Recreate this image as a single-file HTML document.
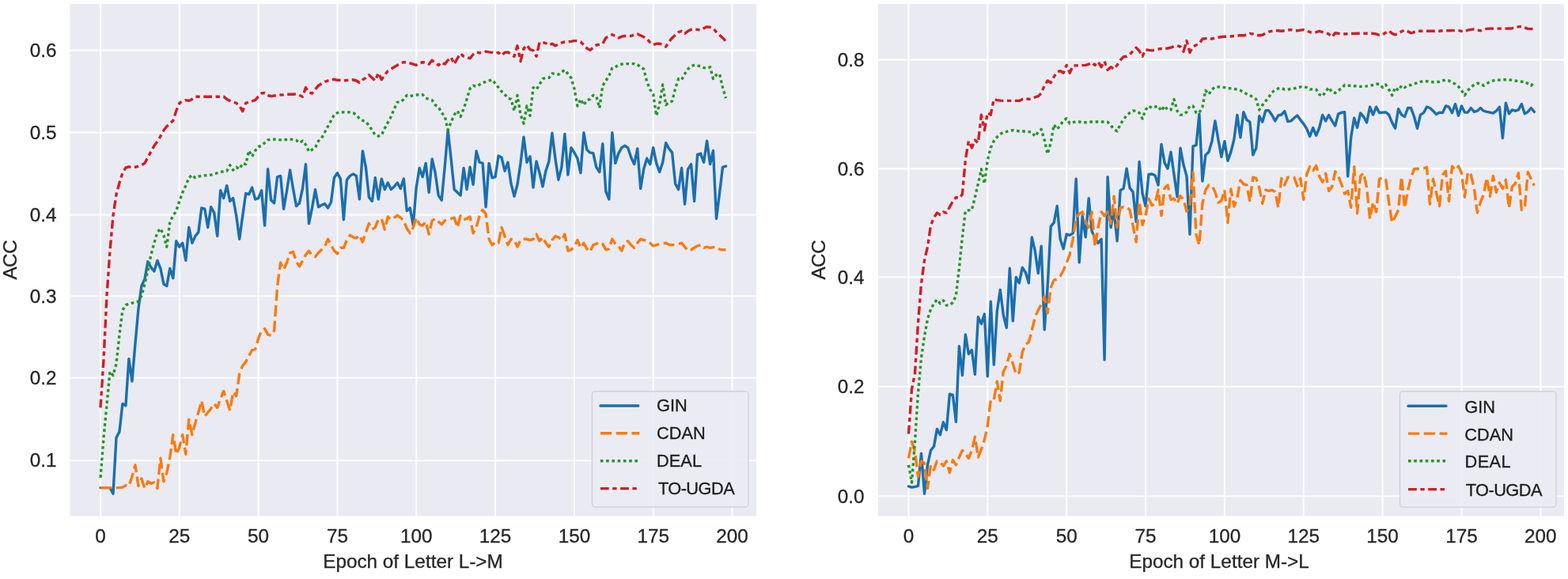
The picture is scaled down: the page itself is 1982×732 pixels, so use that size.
<!DOCTYPE html>
<html lang="en"><head><meta charset="utf-8"><title>ACC vs Epoch</title>
<style>
html,body{margin:0;padding:0;background:#fff;}
body{width:1982px;height:732px;overflow:hidden;}
svg{display:block;}
svg text{font-family:"Liberation Sans", Arial, sans-serif;fill:#262626;stroke:#262626;stroke-width:0.3px;}
</style></head><body>
<svg width="1982" height="732" viewBox="0 0 1982 732">
<rect width="1982" height="732" fill="#fff"/>
<g id="left">
<rect x="88.4" y="5.1" width="867.4" height="647.1999999999999" fill="#eaeaf2"/>
<path d="M127.00 5.1V652.3M226.81 5.1V652.3M326.62 5.1V652.3M426.44 5.1V652.3M526.25 5.1V652.3M626.06 5.1V652.3M725.88 5.1V652.3M825.69 5.1V652.3M925.50 5.1V652.3M88.4 582.20H955.8M88.4 477.80H955.8M88.4 374.30H955.8M88.4 271.60H955.8M88.4 167.60H955.8M88.4 63.60H955.8" stroke="#fdfdfe" stroke-width="2.1" fill="none"/>
<g fill="none" stroke-width="3.4" stroke-linejoin="round">
<polyline points="127.0,616.6 131.0,616.6 135.0,616.6 139.0,616.6 143.0,624.2 147.0,553.4 151.0,545.6 154.9,510.4 158.9,512.9 162.9,453.7 166.9,482.0 170.9,435.2 174.9,391.0 178.9,361.5 182.9,352.9 186.9,330.7 190.9,338.1 194.9,343.0 198.9,329.5 202.9,339.3 206.9,359.0 210.8,361.5 214.8,339.3 218.8,351.6 222.8,304.7 226.8,312.1 230.8,307.2 234.8,329.3 238.8,287.5 242.8,307.2 246.8,298.6 250.8,293.7 254.8,262.9 258.8,264.2 262.7,287.5 266.7,261.7 270.7,269.1 274.7,298.6 278.7,240.8 282.7,250.6 286.7,234.7 290.7,254.3 294.7,250.6 298.7,272.8 302.7,302.3 306.7,272.8 310.7,244.5 314.6,245.7 318.6,237.1 322.6,251.9 326.6,250.6 330.6,240.8 334.6,285.1 338.6,213.8 342.6,253.1 346.6,256.8 350.6,223.6 354.6,222.4 358.6,264.2 362.6,240.8 366.6,215.0 370.5,238.4 374.5,260.5 378.5,256.8 382.5,238.4 386.5,207.6 390.5,282.6 394.5,262.9 398.5,239.6 402.5,261.7 406.5,259.3 410.5,257.5 414.5,262.9 418.5,255.6 422.4,224.8 426.4,218.7 430.4,226.1 434.4,277.7 438.4,227.3 442.4,222.4 446.4,219.9 450.4,222.4 454.4,251.9 458.4,190.9 462.4,211.3 466.4,249.4 470.4,254.3 474.3,224.8 478.3,251.9 482.3,226.1 486.3,239.6 490.3,231.0 494.3,239.6 498.3,235.9 502.3,231.0 506.3,238.4 510.3,226.1 514.3,266.6 518.3,262.9 522.3,285.1 526.2,237.1 530.2,212.5 534.2,223.6 538.2,206.4 542.2,243.3 546.2,201.0 550.2,218.7 554.2,247.0 558.2,253.1 562.2,211.3 566.2,164.6 570.2,201.5 574.2,239.6 578.2,243.3 582.1,247.0 586.1,212.5 590.1,239.6 594.1,211.3 598.1,233.4 602.1,190.9 606.1,205.2 610.1,206.4 614.1,261.7 618.1,206.4 622.1,224.8 626.1,223.6 630.1,197.0 634.0,199.0 638.0,216.2 642.0,205.2 646.0,232.2 650.0,248.2 654.0,233.4 658.0,206.4 662.0,173.2 666.0,205.2 670.0,197.8 674.0,237.1 678.0,203.9 682.0,218.7 686.0,235.9 689.9,216.2 693.9,203.9 697.9,168.3 701.9,200.2 705.9,227.3 709.9,211.3 713.9,169.5 717.9,221.1 721.9,186.7 725.9,192.9 729.9,200.2 733.9,218.7 737.9,167.8 741.8,189.2 745.8,192.9 749.8,193.6 753.8,211.3 757.8,217.5 761.8,181.8 765.8,242.0 769.8,251.9 773.8,167.8 777.8,206.4 781.8,194.1 785.8,186.7 789.8,184.3 793.7,186.7 797.7,199.0 801.7,207.6 805.7,187.9 809.7,238.4 813.7,213.8 817.7,200.2 821.7,207.6 825.7,186.7 829.7,206.4 833.7,217.5 837.7,205.2 841.7,180.6 845.6,187.9 849.6,192.9 853.6,232.2 857.6,239.6 861.6,212.5 865.6,258.0 869.6,213.8 873.6,207.6 877.6,254.3 881.6,195.3 885.6,194.1 889.6,205.2 893.6,178.1 897.6,207.6 901.5,190.4 905.5,276.5 909.5,244.5 913.5,211.3 917.5,210.1" stroke="#1a6fae" stroke-linecap="round"/>
<polyline points="127.0,616.6 131.0,616.6 135.0,616.6 139.0,616.6 143.0,616.6 147.0,616.6 151.0,616.6 154.9,616.1 158.9,613.7 162.9,614.4 166.9,602.6 170.9,587.9 174.9,614.4 178.9,605.1 182.9,617.4 186.9,608.8 190.9,611.2 194.9,610.0 198.9,617.4 202.9,579.3 206.9,608.8 210.8,597.7 214.8,578.0 218.8,549.7 222.8,574.3 226.8,565.7 230.8,549.7 234.8,574.3 238.8,530.1 242.8,549.7 246.8,535.0 250.8,521.5 254.8,506.7 258.8,526.4 262.7,521.5 266.7,516.6 270.7,510.4 274.7,515.3 278.7,504.3 282.7,494.4 286.7,506.7 290.7,519.0 294.7,495.7 298.7,500.6 302.7,472.1 306.7,462.3 310.7,457.4 314.6,450.0 318.6,442.6 322.6,441.4 326.6,427.9 330.6,418.0 334.6,415.6 338.6,422.9 342.6,424.2 346.6,418.0 350.6,361.5 354.6,332.0 358.6,340.6 362.6,332.0 366.6,319.7 370.5,318.4 374.5,330.7 378.5,336.9 382.5,329.5 386.5,322.1 390.5,317.2 394.5,323.4 398.5,324.6 402.5,319.5 406.5,315.8 410.5,312.1 414.5,302.3 418.5,309.7 422.4,317.0 426.4,320.7 430.4,313.3 434.4,313.3 438.4,303.5 442.4,297.4 446.4,299.8 450.4,301.1 454.4,297.4 458.4,306.0 462.4,293.7 466.4,282.6 470.4,290.0 474.3,287.5 478.3,277.7 482.3,276.5 486.3,290.0 490.3,274.0 494.3,277.7 498.3,275.2 502.3,272.3 506.3,275.2 510.3,278.9 514.3,288.8 518.3,294.9 522.3,287.5 526.2,275.2 530.2,283.8 534.2,285.1 538.2,280.2 542.2,296.1 546.2,278.9 550.2,276.5 554.2,280.2 558.2,283.8 562.2,278.9 566.2,277.7 570.2,276.5 574.2,275.2 578.2,287.5 582.1,272.8 586.1,277.7 590.1,276.5 594.1,274.0 598.1,294.9 602.1,287.5 606.1,272.8 610.1,265.4 614.1,270.3 618.1,302.3 622.1,309.7 626.1,306.0 630.1,307.2 634.0,287.5 638.0,298.6 642.0,309.7 646.0,302.3 650.0,303.5 654.0,312.1 658.0,303.5 662.0,302.3 666.0,302.3 670.0,303.5 674.0,302.3 678.0,296.1 682.0,304.7 686.0,299.8 689.9,307.2 693.9,312.1 697.9,303.5 701.9,298.6 705.9,299.8 709.9,303.5 713.9,296.1 717.9,317.0 721.9,315.8 725.9,312.1 729.9,303.5 733.9,313.3 737.9,307.2 741.8,314.6 745.8,318.3 749.8,309.7 753.8,308.4 757.8,306.0 761.8,308.4 765.8,315.8 769.8,314.6 773.8,302.3 777.8,308.4 781.8,310.9 785.8,317.0 789.8,307.2 793.7,304.7 797.7,309.7 801.7,313.3 805.7,307.2 809.7,302.3 813.7,303.5 817.7,304.2 821.7,307.2 825.7,310.9 829.7,309.7 833.7,308.4 837.7,307.7 841.7,307.2 845.6,309.2 849.6,309.7 853.6,309.2 857.6,308.4 861.6,307.2 865.6,312.1 869.6,317.0 873.6,315.8 877.6,313.3 881.6,310.9 885.6,309.7 889.6,313.3 893.6,312.1 897.6,313.3 901.5,312.6 905.5,312.1 909.5,315.1 913.5,315.8 917.5,315.8" stroke="#f97b0c" stroke-dasharray="14.3 5.5"/>
<polyline points="127.0,603.8 131.0,553.4 135.0,511.6 139.0,469.7 143.0,474.6 147.0,459.8 151.0,422.9 154.9,392.2 158.9,385.6 162.9,384.1 166.9,383.1 170.9,382.4 174.9,381.1 178.9,373.8 182.9,359.0 186.9,341.8 190.9,322.0 194.9,307.2 198.9,293.7 202.9,288.8 206.9,297.4 210.8,312.1 214.8,280.2 218.8,272.8 222.8,266.6 226.8,254.3 230.8,243.3 234.8,234.7 238.8,224.8 242.8,221.1 246.8,224.8 250.8,223.1 254.8,222.4 258.8,221.9 262.7,221.6 266.7,221.1 270.7,219.9 274.7,218.7 278.7,217.5 282.7,216.7 286.7,216.2 290.7,208.8 294.7,215.0 298.7,211.3 302.7,213.8 306.7,206.4 310.7,207.6 314.6,190.4 318.6,197.8 322.6,190.4 326.6,185.5 330.6,184.3 334.6,180.6 338.6,176.9 342.6,176.1 346.6,176.1 350.6,176.4 354.6,176.9 358.6,176.9 362.6,176.4 366.6,176.1 370.5,176.4 374.5,177.4 378.5,180.6 382.5,178.1 386.5,183.0 390.5,191.6 394.5,189.2 398.5,186.7 402.5,178.3 406.5,174.6 410.5,167.2 414.5,159.8 418.5,152.4 422.4,145.1 426.4,142.6 430.4,142.1 434.4,141.9 438.4,141.9 442.4,141.9 446.4,142.6 450.4,145.1 454.4,150.0 458.4,152.4 462.4,153.7 466.4,158.6 470.4,164.7 474.3,170.9 478.3,172.1 482.3,170.9 486.3,162.3 490.3,154.9 494.3,147.5 498.3,137.7 502.3,129.1 506.3,129.1 510.3,125.4 514.3,120.5 518.3,121.7 522.3,120.5 526.2,120.0 530.2,119.7 534.2,119.7 538.2,124.2 542.2,125.4 546.2,126.6 550.2,132.8 554.2,135.2 558.2,142.6 562.2,147.0 566.2,164.2 570.2,154.4 574.2,145.1 578.2,140.2 582.1,147.5 586.1,137.7 590.1,125.4 594.1,111.9 598.1,108.2 602.1,109.4 606.1,107.0 610.1,104.5 614.1,103.3 618.1,102.0 622.1,100.8 626.1,105.7 630.1,110.6 634.0,115.6 638.0,119.3 642.0,124.2 646.0,125.4 650.0,140.2 654.0,120.5 658.0,145.1 662.0,156.1 666.0,134.0 670.0,146.3 674.0,110.6 678.0,113.1 682.0,107.0 686.0,99.6 689.9,98.4 693.9,98.4 697.9,92.9 701.9,93.4 705.9,94.2 709.9,91.0 713.9,88.5 717.9,93.4 721.9,98.4 725.9,111.9 729.9,134.0 733.9,125.4 737.9,132.8 741.8,126.6 745.8,125.4 749.8,120.5 753.8,121.7 757.8,136.5 761.8,108.2 765.8,102.0 769.8,95.9 773.8,86.1 777.8,84.8 781.8,82.4 785.8,81.1 789.8,80.6 793.7,80.6 797.7,80.6 801.7,80.6 805.7,81.6 809.7,84.8 813.7,87.3 817.7,103.3 821.7,113.1 825.7,119.3 829.7,146.3 833.7,131.5 837.7,107.0 841.7,132.8 845.6,129.1 849.6,127.9 853.6,111.9 857.6,99.6 861.6,100.8 865.6,93.4 869.6,87.3 873.6,83.6 877.6,82.4 881.6,83.1 885.6,83.6 889.6,85.6 893.6,86.1 897.6,84.8 901.5,99.6 905.5,94.7 909.5,93.4 913.5,110.6 917.5,124.2" stroke="#239526" stroke-dasharray="3.6 3.65"/>
<polyline points="127.0,515.3 131.0,454.9 135.0,373.8 139.0,317.0 143.0,272.8 147.0,245.7 151.0,231.0 154.9,218.7 158.9,212.0 162.9,210.8 166.9,211.8 170.9,211.3 174.9,210.1 178.9,208.8 182.9,206.4 186.9,199.0 190.9,191.6 194.9,184.3 198.9,178.8 202.9,172.1 206.9,164.7 210.8,159.8 214.8,156.1 218.8,152.4 222.8,140.2 226.8,130.3 230.8,127.9 234.8,126.6 238.8,127.4 242.8,125.4 246.8,122.2 250.8,122.2 254.8,122.2 258.8,122.2 262.7,122.2 266.7,122.2 270.7,122.2 274.7,122.2 278.7,122.2 282.7,122.2 286.7,125.4 290.7,127.4 294.7,129.1 298.7,130.3 302.7,134.0 306.7,140.6 310.7,130.3 314.6,129.1 318.6,127.9 322.6,126.6 326.6,121.7 330.6,118.0 334.6,117.5 338.6,120.5 342.6,121.7 346.6,121.0 350.6,120.5 354.6,120.0 358.6,119.7 362.6,119.3 366.6,119.3 370.5,119.3 374.5,118.8 378.5,120.5 382.5,122.2 386.5,110.6 390.5,116.8 394.5,118.0 398.5,113.1 402.5,108.2 406.5,105.7 410.5,103.3 414.5,102.0 418.5,100.8 422.4,100.3 426.4,101.3 430.4,101.5 434.4,102.0 438.4,101.5 442.4,101.3 446.4,100.8 450.4,102.0 454.4,104.5 458.4,100.8 462.4,98.4 466.4,94.7 470.4,98.4 474.3,102.0 478.3,92.2 482.3,100.8 486.3,94.7 490.3,89.7 494.3,87.3 498.3,84.8 502.3,82.4 506.3,79.9 510.3,78.7 514.3,78.7 518.3,79.9 522.3,81.1 526.2,82.4 530.2,79.9 534.2,78.7 538.2,79.2 542.2,81.1 546.2,76.2 550.2,79.9 554.2,82.4 558.2,78.7 562.2,81.1 566.2,76.2 570.2,72.5 574.2,81.1 578.2,73.8 582.1,67.6 586.1,71.3 590.1,72.5 594.1,73.8 598.1,68.8 602.1,65.9 606.1,66.9 610.1,66.4 614.1,65.2 618.1,65.9 622.1,66.4 626.1,67.6 630.1,66.4 634.0,70.1 638.0,66.4 642.0,65.9 646.0,68.8 650.0,71.3 654.0,57.8 658.0,77.5 662.0,61.5 666.0,57.0 670.0,62.7 674.0,63.9 678.0,71.3 682.0,53.6 686.0,53.6 689.9,54.6 693.9,57.0 697.9,55.3 701.9,57.8 705.9,56.1 709.9,54.1 713.9,52.9 717.9,52.9 721.9,52.4 725.9,51.6 729.9,51.6 733.9,52.9 737.9,56.6 741.8,61.0 745.8,63.4 749.8,60.2 753.8,57.0 757.8,56.1 761.8,55.3 765.8,47.9 769.8,45.5 773.8,43.8 777.8,45.5 781.8,47.9 785.8,46.2 789.8,45.5 793.7,45.5 797.7,45.5 801.7,43.8 805.7,43.0 809.7,44.8 813.7,46.7 817.7,49.2 821.7,53.6 825.7,56.6 829.7,55.3 833.7,55.3 837.7,56.1 841.7,59.0 845.6,52.9 849.6,47.9 853.6,44.3 857.6,40.6 861.6,39.3 865.6,42.3 869.6,39.3 873.6,37.4 877.6,36.9 881.6,37.4 885.6,38.1 889.6,35.7 893.6,33.9 897.6,34.4 901.5,35.7 905.5,40.6 909.5,44.3 913.5,47.9 917.5,52.1" stroke="#cf1f24" stroke-dasharray="10.8 4.5 5.4 4.5"/>
</g>
<rect x="748.4" y="494.8" width="197.5" height="146.2" rx="4" ry="4" fill="#eaeaf2" fill-opacity="0.87" stroke="#cccccc" stroke-opacity="0.85" stroke-width="1.4"/>
<path d="M758.9 513.0h47.9" stroke="#1a6fae" stroke-width="3.4" fill="none" stroke-linecap="round"/>
<text x="830.1" y="520.1" font-size="21.8" style="fill:#1c1c1c;stroke:#1c1c1c">GIN</text>
<path d="M758.9 547.8h49.5" stroke="#f97b0c" stroke-width="3.4" fill="none" stroke-dasharray="14.3 5.5"/>
<text x="830.1" y="555.0" font-size="21.8" style="fill:#1c1c1c;stroke:#1c1c1c">CDAN</text>
<path d="M758.9 582.8h49.5" stroke="#239526" stroke-width="3.4" fill="none" stroke-dasharray="3.6 3.65"/>
<text x="830.1" y="589.8" font-size="21.8" style="fill:#1c1c1c;stroke:#1c1c1c">DEAL</text>
<path d="M758.9 617.6h49.5" stroke="#cf1f24" stroke-width="3.4" fill="none" stroke-dasharray="10.8 4.5 5.4 4.5"/>
<text x="831.9" y="624.8" font-size="21.8" style="fill:#1c1c1c;stroke:#1c1c1c" letter-spacing="-0.55">TO-UGDA</text>
<text x="127.0" y="686.3" font-size="24.3" text-anchor="middle">0</text>
<text x="226.8" y="686.3" font-size="24.3" text-anchor="middle">25</text>
<text x="326.6" y="686.3" font-size="24.3" text-anchor="middle">50</text>
<text x="426.4" y="686.3" font-size="24.3" text-anchor="middle">75</text>
<text x="526.2" y="686.3" font-size="24.3" text-anchor="middle">100</text>
<text x="626.1" y="686.3" font-size="24.3" text-anchor="middle">125</text>
<text x="725.9" y="686.3" font-size="24.3" text-anchor="middle">150</text>
<text x="825.7" y="686.3" font-size="24.3" text-anchor="middle">175</text>
<text x="925.5" y="686.3" font-size="24.3" text-anchor="middle">200</text>
<text x="71.5" y="590.4" font-size="24.3" text-anchor="end">0.1</text>
<text x="71.5" y="486.0" font-size="24.3" text-anchor="end">0.2</text>
<text x="71.5" y="382.5" font-size="24.3" text-anchor="end">0.3</text>
<text x="71.5" y="279.8" font-size="24.3" text-anchor="end">0.4</text>
<text x="71.5" y="175.8" font-size="24.3" text-anchor="end">0.5</text>
<text x="71.5" y="71.8" font-size="24.3" text-anchor="end">0.6</text>
<text x="522" y="718.2" font-size="24.3" text-anchor="middle">Epoch of Letter L-&gt;M</text>
<text transform="translate(21.3 328.7) rotate(-90)" font-size="24.3" text-anchor="middle" letter-spacing="-0.5">ACC</text>
</g>
<g id="right">
<rect x="1109.9" y="5.1" width="867.0999999999999" height="647.1999999999999" fill="#eaeaf2"/>
<path d="M1148.50 5.1V652.3M1248.35 5.1V652.3M1348.20 5.1V652.3M1448.05 5.1V652.3M1547.90 5.1V652.3M1647.75 5.1V652.3M1747.60 5.1V652.3M1847.45 5.1V652.3M1947.30 5.1V652.3M1109.9 627.30H1977.0M1109.9 488.80H1977.0M1109.9 350.40H1977.0M1109.9 213.40H1977.0M1109.9 75.60H1977.0" stroke="#fdfdfe" stroke-width="2.1" fill="none"/>
<g fill="none" stroke-width="3.4" stroke-linejoin="round">
<polyline points="1148.5,614.9 1152.5,616.1 1156.5,615.4 1160.5,614.4 1164.5,573.1 1168.5,624.2 1172.5,587.9 1176.5,569.4 1180.5,564.5 1184.4,542.4 1188.4,549.7 1192.4,533.8 1196.4,543.6 1200.4,498.1 1204.4,499.3 1208.4,533.3 1212.4,437.7 1216.4,474.6 1220.4,422.9 1224.4,447.5 1228.4,442.6 1232.4,473.3 1236.4,400.8 1240.4,409.4 1244.4,397.1 1248.3,475.8 1252.3,381.1 1256.3,461.1 1260.3,393.4 1264.3,366.4 1268.3,398.4 1272.3,414.3 1276.3,339.3 1280.3,405.7 1284.3,350.4 1288.3,357.8 1292.3,338.1 1296.3,344.3 1300.3,357.8 1304.3,300.0 1308.3,317.2 1312.3,345.5 1316.2,311.1 1320.2,416.8 1324.2,361.5 1328.2,286.3 1332.2,281.4 1336.2,260.5 1340.2,302.3 1344.2,314.6 1348.2,296.1 1352.2,297.4 1356.2,294.9 1360.2,226.1 1364.2,331.8 1368.2,272.8 1372.2,299.8 1376.2,250.6 1380.2,292.4 1384.1,301.1 1388.1,307.2 1392.1,302.3 1396.1,454.9 1400.1,223.6 1404.1,287.5 1408.1,265.4 1412.1,304.7 1416.1,240.8 1420.1,238.4 1424.1,213.1 1428.1,237.7 1432.1,242.6 1436.1,280.2 1440.1,204.5 1444.1,244.6 1448.0,260.6 1452.0,220.5 1456.0,220.0 1460.0,221.7 1464.0,234.0 1468.0,182.4 1472.0,205.7 1476.0,213.1 1480.0,192.2 1484.0,220.5 1488.0,248.8 1492.0,187.3 1496.0,208.2 1500.0,222.9 1504.0,296.2 1508.0,184.8 1512.0,183.6 1515.9,144.3 1519.9,229.1 1523.9,195.9 1527.9,192.2 1531.9,178.7 1535.9,152.9 1539.9,176.2 1543.9,198.4 1547.9,178.7 1551.9,203.3 1555.9,192.2 1559.9,176.2 1563.9,145.5 1567.9,173.8 1571.9,141.8 1575.9,151.6 1579.9,154.1 1583.8,195.9 1587.8,187.3 1591.8,146.7 1595.8,154.1 1599.8,139.8 1603.8,139.8 1607.8,145.5 1611.8,152.9 1615.8,146.0 1619.8,145.0 1623.8,140.6 1627.8,153.6 1631.8,152.9 1635.8,149.2 1639.8,146.0 1643.8,151.6 1647.8,156.6 1651.7,162.7 1655.7,172.5 1659.7,161.5 1663.7,171.3 1667.7,161.5 1671.7,145.5 1675.7,152.9 1679.7,145.5 1683.7,152.9 1687.7,159.0 1691.7,143.8 1695.7,142.3 1699.7,141.8 1703.7,222.9 1707.7,173.8 1711.7,149.2 1715.6,161.5 1719.6,143.0 1723.6,147.5 1727.6,154.9 1731.6,135.2 1735.6,145.1 1739.6,135.2 1743.6,142.6 1747.6,142.1 1751.6,141.9 1755.6,145.1 1759.6,154.9 1763.6,162.3 1767.6,137.7 1771.6,145.1 1775.6,147.5 1779.6,136.5 1783.5,136.5 1787.5,147.5 1791.5,162.3 1795.5,145.1 1799.5,142.6 1803.5,135.2 1807.5,136.5 1811.5,140.2 1815.5,144.6 1819.5,142.1 1823.5,142.6 1827.5,134.0 1831.5,135.2 1835.5,142.6 1839.5,131.5 1843.5,146.3 1847.5,134.0 1851.4,142.1 1855.4,142.1 1859.4,136.5 1863.4,141.4 1867.4,140.2 1871.4,136.5 1875.4,140.2 1879.4,141.4 1883.4,142.1 1887.4,143.1 1891.4,140.2 1895.4,135.2 1899.4,174.6 1903.4,130.3 1907.4,143.8 1911.4,138.9 1915.3,140.2 1919.3,138.9 1923.3,131.5 1927.3,143.8 1931.3,141.4 1935.3,136.5 1939.3,141.4" stroke="#1a6fae" stroke-linecap="round"/>
<polyline points="1148.5,579.3 1152.5,558.4 1156.5,570.6 1160.5,602.6 1164.5,582.9 1168.5,585.4 1172.5,617.4 1176.5,587.9 1180.5,594.0 1184.4,582.9 1188.4,584.2 1192.4,589.1 1196.4,582.9 1200.4,597.7 1204.4,581.7 1208.4,587.9 1212.4,578.0 1216.4,569.4 1220.4,573.1 1224.4,579.3 1228.4,569.4 1232.4,552.2 1236.4,578.0 1240.4,568.2 1244.4,555.9 1248.3,538.7 1252.3,505.5 1256.3,505.5 1260.3,482.1 1264.3,506.7 1268.3,469.7 1272.3,462.3 1276.3,447.5 1280.3,459.8 1284.3,473.3 1288.3,470.9 1292.3,445.1 1296.3,435.2 1300.3,432.8 1304.3,418.0 1308.3,400.8 1312.3,392.2 1316.2,384.8 1320.2,375.0 1324.2,395.9 1328.2,363.9 1332.2,354.1 1336.2,352.9 1340.2,349.2 1344.2,341.8 1348.2,332.0 1352.2,322.0 1356.2,302.3 1360.2,275.2 1364.2,270.3 1368.2,267.9 1372.2,280.2 1376.2,287.5 1380.2,267.9 1384.1,312.1 1388.1,287.5 1392.1,267.9 1396.1,272.8 1400.1,267.9 1404.1,282.6 1408.1,248.2 1412.1,287.5 1416.1,262.9 1420.1,261.7 1424.1,261.7 1428.1,265.4 1432.1,285.1 1436.1,306.0 1440.1,254.9 1444.1,284.4 1448.0,273.3 1452.0,251.2 1456.0,259.8 1460.0,257.4 1464.0,240.2 1468.0,272.6 1472.0,237.7 1476.0,234.0 1480.0,252.4 1484.0,251.2 1488.0,257.4 1492.0,247.5 1496.0,252.4 1500.0,267.2 1504.0,259.8 1508.0,218.0 1512.0,296.7 1515.9,309.7 1519.9,257.4 1523.9,240.2 1527.9,234.0 1531.9,234.7 1535.9,242.6 1539.9,256.1 1543.9,253.7 1547.9,240.2 1551.9,281.5 1555.9,238.9 1559.9,261.1 1563.9,250.0 1567.9,227.9 1571.9,232.8 1575.9,234.0 1579.9,254.9 1583.8,224.2 1587.8,225.4 1591.8,237.7 1595.8,257.4 1599.8,240.2 1603.8,241.4 1607.8,240.2 1611.8,242.6 1615.8,262.3 1619.8,225.4 1623.8,234.0 1627.8,224.2 1631.8,223.7 1635.8,224.2 1639.8,235.2 1643.8,225.4 1647.8,252.4 1651.7,220.5 1655.7,210.6 1659.7,215.6 1663.7,209.4 1667.7,222.9 1671.7,230.3 1675.7,219.3 1679.7,241.4 1683.7,236.5 1687.7,216.8 1691.7,222.9 1695.7,232.8 1699.7,245.1 1703.7,241.4 1707.7,262.3 1711.7,210.6 1715.6,269.7 1719.6,222.9 1723.6,218.7 1727.6,237.1 1731.6,276.5 1735.6,255.6 1739.6,267.9 1743.6,226.1 1747.6,224.8 1751.6,226.1 1755.6,255.6 1759.6,281.4 1763.6,274.0 1767.6,265.4 1771.6,223.6 1775.6,262.9 1779.6,240.8 1783.5,224.8 1787.5,213.8 1791.5,213.3 1795.5,213.8 1799.5,213.0 1803.5,211.3 1807.5,258.0 1811.5,226.1 1815.5,243.3 1819.5,260.5 1823.5,221.1 1827.5,216.2 1831.5,254.3 1835.5,210.1 1839.5,215.0 1843.5,210.1 1847.5,218.7 1851.4,249.4 1855.4,217.5 1859.4,221.1 1863.4,238.4 1867.4,269.1 1871.4,255.6 1875.4,245.7 1879.4,224.8 1883.4,248.2 1887.4,222.4 1891.4,243.3 1895.4,231.0 1899.4,238.4 1903.4,227.3 1907.4,262.9 1911.4,235.9 1915.3,232.2 1919.3,218.7 1923.3,265.4 1927.3,262.9 1931.3,217.5 1935.3,226.1 1939.3,234.7" stroke="#f97b0c" stroke-dasharray="14.3 5.5"/>
<polyline points="1148.5,587.9 1152.5,610.0 1156.5,558.4 1160.5,496.7 1164.5,452.4 1168.5,425.4 1172.5,403.3 1176.5,391.0 1180.5,383.6 1184.4,378.7 1188.4,383.6 1192.4,379.9 1196.4,386.1 1200.4,385.6 1204.4,382.4 1208.4,373.8 1212.4,339.3 1216.4,299.8 1220.4,266.6 1224.4,265.9 1228.4,265.4 1232.4,249.4 1236.4,232.2 1240.4,213.8 1244.4,232.2 1248.3,202.7 1252.3,186.7 1256.3,178.1 1260.3,173.2 1264.3,169.5 1268.3,167.0 1272.3,166.3 1276.3,165.3 1280.3,164.6 1284.3,165.1 1288.3,165.8 1292.3,165.8 1296.3,166.3 1300.3,166.6 1304.3,167.0 1308.3,172.5 1312.3,167.0 1316.2,163.4 1320.2,176.9 1324.2,194.6 1328.2,180.6 1332.2,157.7 1336.2,163.4 1340.2,158.4 1344.2,152.3 1348.2,149.8 1352.2,156.0 1356.2,154.8 1360.2,153.5 1364.2,154.0 1368.2,154.8 1372.2,154.8 1376.2,154.3 1380.2,154.0 1384.1,154.0 1388.1,154.0 1392.1,154.0 1396.1,154.0 1400.1,154.3 1404.1,158.4 1408.1,163.4 1412.1,165.8 1416.1,157.2 1420.1,151.1 1424.1,146.1 1428.1,142.5 1432.1,140.0 1436.1,140.2 1440.1,142.6 1444.1,150.0 1448.0,138.9 1452.0,134.0 1456.0,136.5 1460.0,135.2 1464.0,134.0 1468.0,140.2 1472.0,134.0 1476.0,138.9 1480.0,138.9 1484.0,125.4 1488.0,140.2 1492.0,145.1 1496.0,145.1 1500.0,141.4 1504.0,134.0 1508.0,134.0 1512.0,142.6 1515.9,142.6 1519.9,135.2 1523.9,114.3 1527.9,119.3 1531.9,113.1 1535.9,109.9 1539.9,109.9 1543.9,110.2 1547.9,110.6 1551.9,111.4 1555.9,111.9 1559.9,112.4 1563.9,113.1 1567.9,114.3 1571.9,116.8 1575.9,118.8 1579.9,120.5 1583.8,122.9 1587.8,125.4 1591.8,138.9 1595.8,132.8 1599.8,127.9 1603.8,122.9 1607.8,116.8 1611.8,113.6 1615.8,111.9 1619.8,111.4 1623.8,113.1 1627.8,113.1 1631.8,112.4 1635.8,111.9 1639.8,110.6 1643.8,109.9 1647.8,109.4 1651.7,110.6 1655.7,113.1 1659.7,112.6 1663.7,113.1 1667.7,119.3 1671.7,121.7 1675.7,115.6 1679.7,110.6 1683.7,116.8 1687.7,117.5 1691.7,114.3 1695.7,111.9 1699.7,107.5 1703.7,108.2 1707.7,108.2 1711.7,108.7 1715.6,108.7 1719.6,109.4 1723.6,109.4 1727.6,108.9 1731.6,108.2 1735.6,107.5 1739.6,106.2 1743.6,106.2 1747.6,110.6 1751.6,107.0 1755.6,113.1 1759.6,120.5 1763.6,110.6 1767.6,114.3 1771.6,108.2 1775.6,110.6 1779.6,108.2 1783.5,107.5 1787.5,106.2 1791.5,104.5 1795.5,103.3 1799.5,102.5 1803.5,102.8 1807.5,103.3 1811.5,103.8 1815.5,103.8 1819.5,103.3 1823.5,102.0 1827.5,100.8 1831.5,102.0 1835.5,104.5 1839.5,106.2 1843.5,109.4 1847.5,114.3 1851.4,120.5 1855.4,114.3 1859.4,110.6 1863.4,107.0 1867.4,105.2 1871.4,105.7 1875.4,108.2 1879.4,105.7 1883.4,103.3 1887.4,102.0 1891.4,101.3 1895.4,101.1 1899.4,100.8 1903.4,100.8 1907.4,100.8 1911.4,101.3 1915.3,102.0 1919.3,102.8 1923.3,103.3 1927.3,103.3 1931.3,105.7 1935.3,108.2 1939.3,104.5" stroke="#239526" stroke-dasharray="3.6 3.65"/>
<polyline points="1148.5,548.5 1152.5,492.0 1156.5,472.1 1160.5,408.2 1164.5,359.0 1168.5,329.3 1172.5,312.1 1176.5,285.1 1180.5,275.2 1184.4,269.1 1188.4,271.5 1192.4,267.9 1196.4,269.1 1200.4,261.7 1204.4,254.3 1208.4,249.4 1212.4,250.6 1216.4,245.7 1220.4,201.5 1224.4,178.3 1228.4,186.9 1232.4,177.0 1236.4,180.7 1240.4,145.1 1244.4,164.7 1248.3,142.6 1252.3,145.1 1256.3,125.4 1260.3,126.6 1264.3,127.1 1268.3,127.4 1272.3,127.4 1276.3,127.4 1280.3,127.4 1284.3,127.4 1288.3,127.4 1292.3,125.4 1296.3,124.2 1300.3,125.4 1304.3,124.9 1308.3,122.9 1312.3,121.7 1316.2,118.0 1320.2,108.2 1324.2,102.0 1328.2,104.5 1332.2,97.1 1336.2,91.0 1340.2,89.7 1344.2,92.2 1348.2,82.4 1352.2,92.2 1356.2,83.1 1360.2,82.9 1364.2,82.6 1368.2,82.6 1372.2,82.4 1376.2,81.1 1380.2,79.2 1384.1,82.4 1388.1,78.2 1392.1,84.8 1396.1,77.5 1400.1,88.5 1404.1,84.8 1408.1,87.3 1412.1,82.4 1416.1,76.2 1420.1,71.8 1424.1,71.3 1428.1,68.8 1432.1,64.4 1436.1,60.2 1440.1,64.4 1444.1,71.3 1448.0,62.7 1452.0,63.4 1456.0,63.9 1460.0,63.2 1464.0,62.2 1468.0,61.5 1472.0,61.5 1476.0,61.0 1480.0,60.2 1484.0,58.5 1488.0,57.8 1492.0,59.0 1496.0,65.2 1500.0,51.6 1504.0,66.4 1508.0,59.0 1512.0,57.0 1515.9,55.3 1519.9,49.2 1523.9,48.7 1527.9,47.9 1531.9,49.2 1535.9,47.9 1539.9,47.2 1543.9,46.7 1547.9,46.2 1551.9,46.2 1555.9,46.0 1559.9,45.5 1563.9,45.0 1567.9,44.8 1571.9,44.8 1575.9,43.8 1579.9,42.3 1583.8,43.0 1587.8,44.3 1591.8,44.8 1595.8,44.3 1599.8,41.8 1603.8,40.1 1607.8,39.3 1611.8,38.8 1615.8,38.8 1619.8,39.3 1623.8,38.8 1627.8,38.1 1631.8,37.6 1635.8,38.6 1639.8,38.8 1643.8,38.1 1647.8,37.6 1651.7,38.6 1655.7,40.6 1659.7,41.3 1663.7,40.6 1667.7,39.3 1671.7,40.6 1675.7,41.8 1679.7,43.0 1683.7,46.7 1687.7,41.8 1691.7,42.3 1695.7,43.0 1699.7,43.0 1703.7,42.8 1707.7,42.5 1711.7,42.5 1715.6,42.3 1719.6,42.3 1723.6,42.3 1727.6,42.3 1731.6,42.3 1735.6,42.3 1739.6,43.0 1743.6,44.3 1747.6,43.8 1751.6,41.3 1755.6,38.8 1759.6,42.3 1763.6,43.8 1767.6,42.3 1771.6,39.8 1775.6,38.1 1779.6,39.8 1783.5,41.8 1787.5,40.6 1791.5,39.3 1795.5,39.3 1799.5,39.3 1803.5,39.3 1807.5,39.3 1811.5,39.3 1815.5,39.3 1819.5,39.3 1823.5,38.8 1827.5,38.8 1831.5,38.8 1835.5,38.6 1839.5,38.6 1843.5,38.6 1847.5,39.3 1851.4,40.1 1855.4,38.1 1859.4,37.4 1863.4,36.9 1867.4,38.1 1871.4,38.8 1875.4,37.4 1879.4,36.4 1883.4,36.1 1887.4,36.1 1891.4,36.1 1895.4,36.1 1899.4,36.1 1903.4,36.1 1907.4,36.1 1911.4,35.7 1915.3,34.9 1919.3,33.9 1923.3,33.4 1927.3,34.9 1931.3,36.4 1935.3,36.6 1939.3,36.1" stroke="#cf1f24" stroke-dasharray="10.8 4.5 5.4 4.5"/>
</g>
<rect x="1769.5" y="494.8" width="197.5" height="146.3" rx="4" ry="4" fill="#eaeaf2" fill-opacity="0.87" stroke="#cccccc" stroke-opacity="0.85" stroke-width="1.4"/>
<path d="M1780.0 513.2h47.9" stroke="#1a6fae" stroke-width="3.4" fill="none" stroke-linecap="round"/>
<text x="1851.3" y="522.4" font-size="21.8" style="fill:#1c1c1c;stroke:#1c1c1c">GIN</text>
<path d="M1780.0 548.1h49.5" stroke="#f97b0c" stroke-width="3.4" fill="none" stroke-dasharray="14.3 5.5"/>
<text x="1851.3" y="556.9" font-size="21.8" style="fill:#1c1c1c;stroke:#1c1c1c">CDAN</text>
<path d="M1780.0 582.8h49.5" stroke="#239526" stroke-width="3.4" fill="none" stroke-dasharray="3.6 3.65"/>
<text x="1851.5" y="590.8" font-size="21.8" style="fill:#1c1c1c;stroke:#1c1c1c" letter-spacing="0.4">DEAL</text>
<path d="M1780.0 618.6h49.5" stroke="#cf1f24" stroke-width="3.4" fill="none" stroke-dasharray="10.8 4.5 5.4 4.5"/>
<text x="1852.7" y="627.4" font-size="21.8" style="fill:#1c1c1c;stroke:#1c1c1c" letter-spacing="-0.55">TO-UGDA</text>
<text x="1148.5" y="686.3" font-size="24.3" text-anchor="middle">0</text>
<text x="1248.3" y="686.3" font-size="24.3" text-anchor="middle">25</text>
<text x="1348.2" y="686.3" font-size="24.3" text-anchor="middle">50</text>
<text x="1448.0" y="686.3" font-size="24.3" text-anchor="middle">75</text>
<text x="1547.9" y="686.3" font-size="24.3" text-anchor="middle">100</text>
<text x="1647.8" y="686.3" font-size="24.3" text-anchor="middle">125</text>
<text x="1747.6" y="686.3" font-size="24.3" text-anchor="middle">150</text>
<text x="1847.5" y="686.3" font-size="24.3" text-anchor="middle">175</text>
<text x="1947.3" y="686.3" font-size="24.3" text-anchor="middle">200</text>
<text x="1092.5" y="635.5" font-size="24.3" text-anchor="end">0.0</text>
<text x="1092.5" y="497.0" font-size="24.3" text-anchor="end">0.2</text>
<text x="1092.5" y="358.6" font-size="24.3" text-anchor="end">0.4</text>
<text x="1092.5" y="221.6" font-size="24.3" text-anchor="end">0.6</text>
<text x="1092.5" y="83.8" font-size="24.3" text-anchor="end">0.8</text>
<text x="1541" y="718.2" font-size="24.3" text-anchor="middle">Epoch of Letter M-&gt;L</text>
<text transform="translate(1043.3 328.7) rotate(-90)" font-size="24.3" text-anchor="middle" letter-spacing="-0.5">ACC</text>
</g>
</svg>
</body></html>
